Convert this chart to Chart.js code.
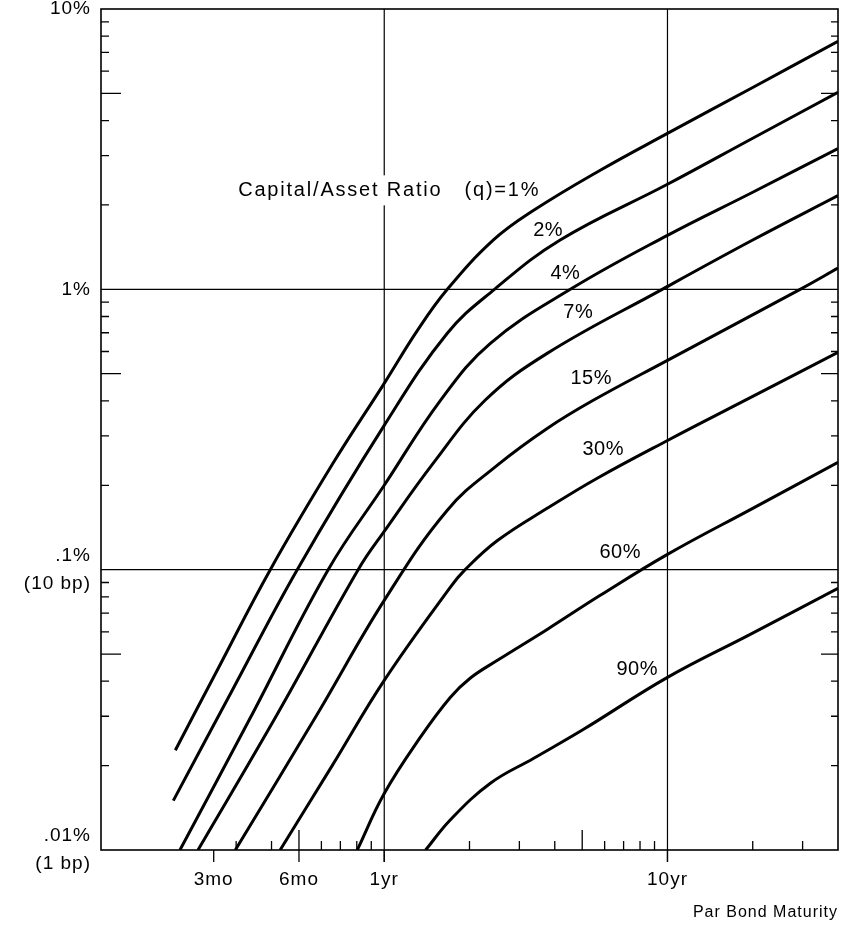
<!DOCTYPE html>
<html>
<head>
<meta charset="utf-8">
<script src="https://cdn.jsdelivr.net/npm/chart.js@4.4.1/dist/chart.umd.min.js"></script>
<style>
  html, body { margin: 0; padding: 0; background: #fff; }
  #spreadChart { display: block; }
</style>
</head>
<body>
<canvas id="spreadChart" width="850" height="925"></canvas>
<script>
// capital/asset ratio (q) of each curve
const capitalRatios = ['1%', '2%', '4%', '7%', '15%', '30%', '60%', '90%'];

// maturity (years) and spread (%), one pair per curve
const maturity_q1 = [0.183, 0.257, 0.396, 0.66, 1.0, 1.31, 1.67, 2.43, 3.36, 5.79, 10, 20, 40];
const spread_q1   = [0.0227, 0.0437, 0.1, 0.24, 0.462, 0.714, 1.0, 1.50, 1.91, 2.66, 3.60, 5.25, 7.67];

const maturity_q2 = [0.18, 0.293, 0.493, 1.0, 1.67, 2.45, 4.18, 10, 20, 40];
const spread_q2   = [0.015, 0.0377, 0.1, 0.327, 0.697, 1.0, 1.50, 2.37, 3.46, 5.04];

const maturity_q4 = [0.19, 0.336, 0.634, 1.0, 1.58, 2.37, 4.54, 10, 20, 40];
const spread_q4   = [0.01, 0.0295, 0.1, 0.2, 0.402, 0.642, 1.0, 1.558, 2.22, 3.18];

const maturity_q7 = [0.22, 0.419, 0.809, 1.0, 1.49, 2.27, 3.76, 9.58, 20, 40];
const spread_q7   = [0.01, 0.0305, 0.1, 0.137, 0.24, 0.402, 0.591, 1.0, 1.50, 2.16];

const maturity_q15 = [0.298, 0.58, 1.0, 1.67, 2.51, 3.76, 5.47, 10, 29.4, 40];
const spread_q15   = [0.01, 0.0305, 0.0777, 0.163, 0.236, 0.319, 0.402, 0.558, 1.0, 1.19];

const maturity_q30 = [0.429, 0.655, 1.0, 1.71, 1.93, 2.51, 3.76, 5.65, 10, 20, 40];
const spread_q30   = [0.01, 0.02, 0.0403, 0.0865, 0.1, 0.127, 0.1655, 0.212, 0.289, 0.415, 0.596];

const maturity_q60 = [0.803, 1.0, 1.34, 1.71, 2.01, 2.51, 3.76, 5.79, 10, 20, 40];
const spread_q60   = [0.01, 0.0159, 0.0252, 0.035, 0.041, 0.0475, 0.0612, 0.081, 0.1134, 0.1655, 0.2415];

const maturity_q90 = [1.40, 1.71, 2.37, 3.36, 5.04, 10, 19.6, 40];
const spread_q90   = [0.01, 0.0128, 0.0173, 0.0212, 0.0269, 0.0413, 0.0588, 0.0858];

const maturities = [maturity_q1, maturity_q2, maturity_q4, maturity_q7, maturity_q15, maturity_q30, maturity_q60, maturity_q90];
const spreads = [spread_q1, spread_q2, spread_q4, spread_q7, spread_q15, spread_q30, spread_q60, spread_q90];

// axis ticks
const xTickValues = [0.25, 0.5, 1, 10];
const xTickLabels = ['3mo', '6mo', '1yr', '10yr'];
const xMinorTicks = [0.3, 0.4, 0.6, 0.7, 0.8, 0.9, 2, 3, 4, 6, 7, 8, 9, 20, 30];
const xMidTicks = [0.5, 5];
const xGridLines = [1, 10];

const yTickValues = [0.01, 0.1, 1, 10];
const yTickLabels = [['.01%', '(1 bp)'], ['.1%', '(10 bp)'], '1%', '10%'];
const yMinorTicks = [0.02, 0.03, 0.04, 0.06, 0.07, 0.08, 0.09, 0.2, 0.3, 0.4, 0.6, 0.7, 0.8, 0.9, 2, 3, 4, 6, 7, 8, 9];
const yMidTicks = [0.05, 0.5, 5];
const yGridLines = [0.1, 1];

const INK = '#000';
const FONT = '"Liberation Sans", Arial, sans-serif';

// where the curve names sit (in data units)
const curveLabels = [
  { text: '2%',  x: 3.79, y: 1.62 },
  { text: '4%',  x: 4.36, y: 1.14 },
  { text: '7%',  x: 4.84, y: 0.828 },
  { text: '15%', x: 5.38, y: 0.48 },
  { text: '30%', x: 5.93, y: 0.269 },
  { text: '60%', x: 6.81, y: 0.115 },
  { text: '90%', x: 7.82, y: 0.0441 }
];
const titleLabel = { text: 'Capital/Asset Ratio   (q)=1%', x: 0.305, y: 2.255 };

///////////// plugins
const spacedText = {
  id: 'spacedText',
  beforeDraw(chart) {
    chart.ctx.letterSpacing = '1px';
  }
};

function setLabelFont(ctx) {
  ctx.font = '20px ' + FONT;
  ctx.textBaseline = 'middle';
  ctx.letterSpacing = '1.8px';
  ctx.textAlign = 'left';
}

const frameAndTicks = {
  id: 'frameAndTicks',
  beforeDatasetsDraw(chart) {
    const { ctx, chartArea: a, scales: { x, y } } = chart;
    ctx.save();
    ctx.strokeStyle = INK;

    // grid lines at 1yr, 10yr, 1%, .1%
    ctx.lineWidth = 1.2;
    ctx.beginPath();
    xGridLines.forEach(v => {
      const px = x.getPixelForValue(v);
      ctx.moveTo(px, a.top);
      ctx.lineTo(px, a.bottom + 12);
    });
    yGridLines.forEach(v => {
      const py = y.getPixelForValue(v);
      ctx.moveTo(a.left, py);
      ctx.lineTo(a.right, py);
    });
    ctx.stroke();

    // white box under the main label breaks the 1yr grid line
    setLabelFont(ctx);
    const tx = x.getPixelForValue(titleLabel.x);
    const ty = y.getPixelForValue(titleLabel.y);
    const w = ctx.measureText(titleLabel.text).width;
    ctx.fillStyle = '#fff';
    ctx.fillRect(tx - 4, ty - 15, w + 6, 30);

    // tick marks
    ctx.lineWidth = 1.3;
    ctx.beginPath();
    xTickValues.forEach(v => {
      const px = x.getPixelForValue(v);
      ctx.moveTo(px, a.bottom);
      ctx.lineTo(px, a.bottom + 12);
    });
    xMinorTicks.forEach(v => {
      const px = x.getPixelForValue(v);
      ctx.moveTo(px, a.bottom);
      ctx.lineTo(px, a.bottom - 9);
    });
    xMidTicks.forEach(v => {
      const px = x.getPixelForValue(v);
      ctx.moveTo(px, a.bottom);
      ctx.lineTo(px, a.bottom - 20);
    });
    yMinorTicks.forEach(v => {
      const py = y.getPixelForValue(v);
      ctx.moveTo(a.left, py);
      ctx.lineTo(a.left + 8, py);
      ctx.moveTo(a.right, py);
      ctx.lineTo(a.right - 7, py);
    });
    yMidTicks.forEach(v => {
      const py = y.getPixelForValue(v);
      ctx.moveTo(a.left, py);
      ctx.lineTo(a.left + 20, py);
      ctx.moveTo(a.right, py);
      ctx.lineTo(a.right - 17, py);
    });
    ctx.stroke();

    // frame
    ctx.lineWidth = 1.6;
    ctx.strokeRect(a.left, a.top, a.right - a.left, a.bottom - a.top);
    ctx.restore();
  },
  afterDatasetsDraw(chart) {
    const { ctx, scales: { x, y } } = chart;
    ctx.save();
    ctx.fillStyle = INK;
    setLabelFont(ctx);
    ctx.fillText(titleLabel.text, x.getPixelForValue(titleLabel.x), y.getPixelForValue(titleLabel.y));

    ctx.letterSpacing = '0.5px';
    ctx.textAlign = 'center';
    curveLabels.forEach(l => {
      ctx.fillText(l.text, x.getPixelForValue(l.x), y.getPixelForValue(l.y));
    });
    ctx.restore();
  }
};

///////////// chart
const ctx_spread = document.getElementById('spreadChart').getContext('2d');

const spreadChart = new Chart(ctx_spread, {
  type: 'line',
  data: {
    datasets: capitalRatios.map((q, i) => ({
      label: 'q = ' + q,
      data: maturities[i].map((m, j) => ({ x: m, y: spreads[i][j] })),
      borderColor: INK,
      borderWidth: 3,
      pointRadius: 0,
      fill: false,
      tension: 0.4
    }))
  },
  options: {
    responsive: false,
    maintainAspectRatio: false,
    animation: false,
    devicePixelRatio: 1,
    layout: { padding: { top: 9, right: 12, left: 0, bottom: 0 } },
    scales: {
      x: {
        type: 'logarithmic',
        min: 0.1,
        max: 40,
        grid: { display: false, drawTicks: false },
        border: { display: false },
        afterBuildTicks: s => { s.ticks = xTickValues.map(v => ({ value: v })); },
        afterFit: s => { s.height = 75; s.paddingLeft = 0; s.paddingRight = 0; },
        ticks: {
          autoSkip: false,
          maxRotation: 0,
          padding: 18,
          color: INK,
          font: { family: FONT, size: 19 },
          callback: v => {
            const i = xTickValues.indexOf(v);
            return i >= 0 ? xTickLabels[i] : '';
          }
        },
        title: {
          display: true,
          text: 'Par Bond Maturity',
          align: 'end',
          color: INK,
          font: { family: FONT, size: 16 },
          padding: { top: 0, bottom: 3 }
        }
      },
      y: {
        type: 'logarithmic',
        position: 'left',
        min: 0.01,
        max: 10,
        grid: { display: false, drawTicks: false },
        border: { display: false },
        afterBuildTicks: s => { s.ticks = yTickValues.map(v => ({ value: v })); },
        afterFit: s => { s.width = 101; s.paddingTop = 0; s.paddingBottom = 0; },
        ticks: {
          autoSkip: false,
          padding: 10,
          color: INK,
          font: { family: FONT, size: 19, lineHeight: 1.45 },
          callback: v => {
            const i = yTickValues.indexOf(v);
            return i >= 0 ? yTickLabels[i] : '';
          }
        }
      }
    },
    plugins: {
      legend: { display: false },
      tooltip: { enabled: false }
    }
  },
  plugins: [spacedText, frameAndTicks]
});
</script>
</body>
</html>
